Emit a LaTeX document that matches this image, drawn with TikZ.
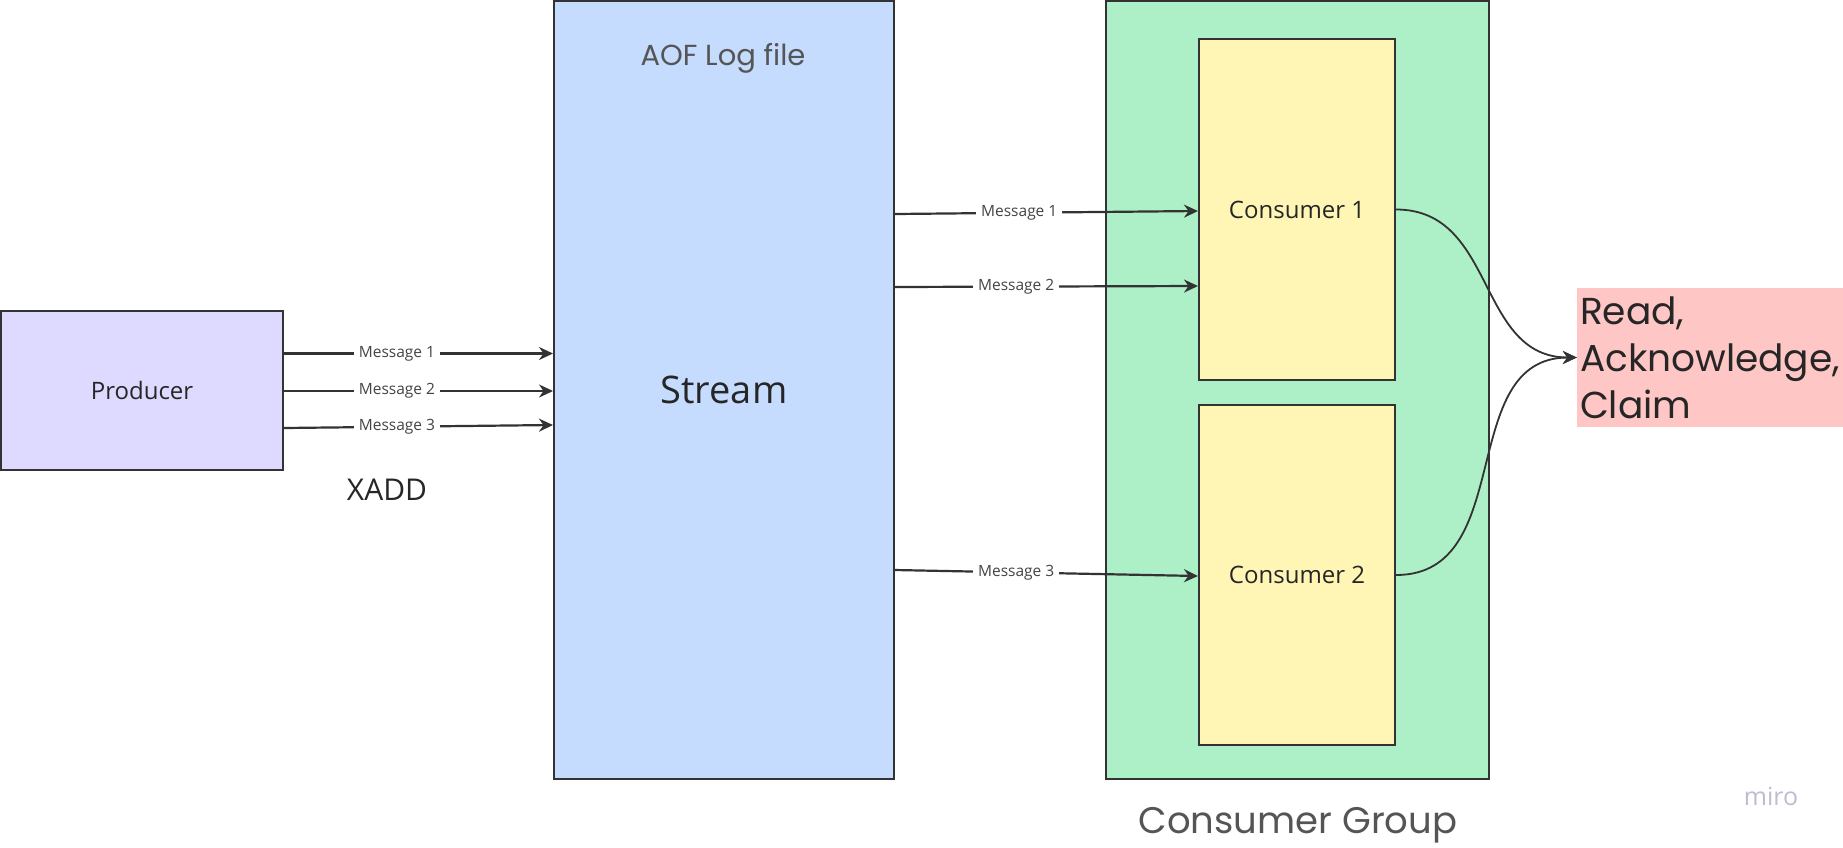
\documentclass[tikz,border=0pt]{standalone}
\usepackage{fontspec}
\setmainfont{Open Sans}
\newfontfamily\geo{Poppins}
\usetikzlibrary{arrows.meta}
\definecolor{ln}{HTML}{333333}
\definecolor{prodc}{HTML}{DEDAFF}
\definecolor{strc}{HTML}{C6DCFE}
\definecolor{grpc}{HTML}{ADF0C7}
\definecolor{conc}{HTML}{FFF6B6}
\definecolor{readc}{HTML}{FFC6C6}
\definecolor{gtxt}{HTML}{555555}
\definecolor{mtxt}{HTML}{444444}
\definecolor{miroc}{HTML}{BDBDD0}
\begin{document}
\begin{tikzpicture}[x=1pt,y=-1pt,
  box/.style={draw=ln, line width=2pt, inner sep=0pt, align=center, text=black!85},
  tip/.style={-{Stealth[length=14pt,width=13pt,inset=4.5pt]}},
  arr/.style={draw=ln, line width=2.2pt, tip},
  msg/.style={fill=white, inner xsep=5pt, inner ysep=2pt, text=mtxt, font=\fontsize{15.5}{18}\selectfont}]
\useasboundingbox (0,0) rectangle (1843,847);
\fill[white] (0,0) rectangle (1843,847);
% nodes
\node[box, fill=prodc, minimum width=282pt, minimum height=159pt, font=\fontsize{24}{28}\selectfont] (producer) at (142,390) {Producer};
\node[box, fill=strc, minimum width=340pt, minimum height=778pt, font=\fontsize{38}{44}\selectfont] (stream) at (724,390) {Stream};
\node[box, fill=grpc, minimum width=383pt, minimum height=778pt] (group) at (1297.5,390) {};
\node[box, fill=conc, minimum width=196pt, minimum height=341pt, font=\fontsize{24}{28}\selectfont] (c1) at (1297,209.5) {Consumer 1};
\node[box, fill=conc, minimum width=196pt, minimum height=340pt, font=\fontsize{24}{28}\selectfont] (c2) at (1297,575) {Consumer 2};
\node[fill=readc, minimum width=266pt, minimum height=139pt, inner xsep=1pt, align=left, text=black!85, font=\geo\fontsize{37.5}{47}\selectfont] (read) at (1710,357.5) {Read,\\Acknowledge,\\Claim};
% free labels
\node[text=gtxt, font=\geo\fontsize{29}{34}\selectfont] (aof) at (723,58) {AOF Log file};
\node[text=black!85, font=\fontsize{30}{34}\selectfont] (xadd) at (387,490) {XADD};
\node[text=gtxt, font=\geo\fontsize{37}{42}\selectfont] (cg) at (1298,825) {Consumer Group};
\node[text=miroc, font=\fontsize{25}{28}\selectfont] (miro) at (1771,796) {miro};
% connectors
\draw[arr] (producer.east |- 0,353.5) -- node[msg, pos=0.42] {Message 1} (stream.west |- 0,353.5);
\draw[arr] (producer.east |- 0,391) -- node[msg, pos=0.42] {Message 2} (stream.west |- 0,391);
\draw[arr] (producer.east |- 0,428) -- node[msg, pos=0.42] {Message 3} (stream.west |- 0,425);
\draw[arr] (stream.east |- 0,214) -- node[msg, pos=0.41] {Message 1} (c1.west |- 0,211);
\draw[arr] (stream.east |- 0,287) -- node[msg, pos=0.40] {Message 2} (c1.west |- 0,286);
\draw[arr] (stream.east |- 0,570) -- node[msg, pos=0.40] {Message 3} (c2.west |- 0,576);
\draw[draw=ln, line width=1.8pt, tip] (c1.east) to[out=0,in=180,looseness=1.1] (read.west);
\draw[draw=ln, line width=1.8pt, tip] (c2.east) to[out=0,in=180,looseness=1.1] (read.west);
\end{tikzpicture}
\end{document}
